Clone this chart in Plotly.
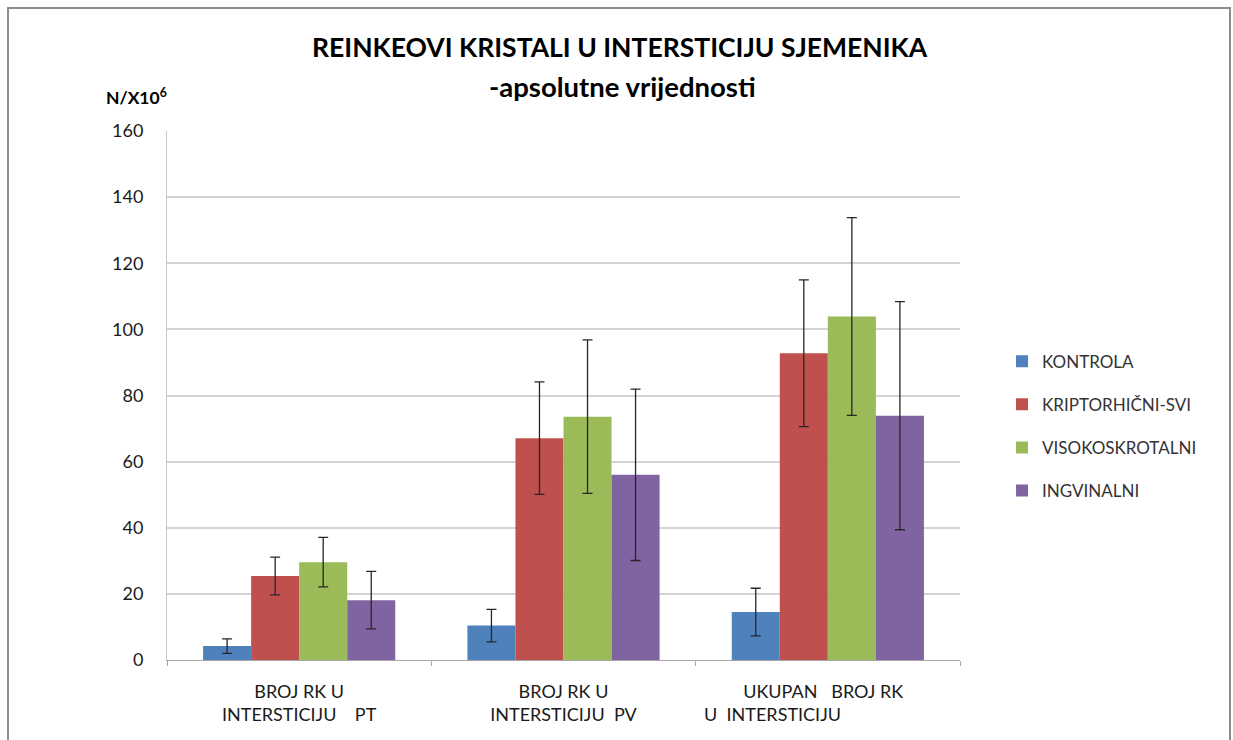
import plotly.graph_objects as go

NB = "\u00a0"

# Category labels (two lines each)
categories = [
    f"BROJ RK U<br>INTERSTICIJU{NB*4}PT",
    f"BROJ RK U<br>INTERSTICIJU{NB*2}PV",
    f"UKUPAN{NB*3}BROJ RK{NB*2}<br>U{NB*2}INTERSTICIJU{NB*24}",
]

# Series means and error (± SD)
kontrola = [4.2, 10.4, 14.5]
kontrola_err = [2.2, 4.9, 7.2]

kriptorhicni = [25.4, 67.1, 92.8]
kriptorhicni_err = [5.7, 17.0, 22.2]

visokoskrotalni = [29.6, 73.6, 103.9]
visokoskrotalni_err = [7.5, 23.2, 29.9]

ingvinalni = [18.1, 56.0, 73.9]
ingvinalni_err = [8.7, 25.9, 34.5]

series_names = ["KONTROLA", "KRIPTORHIČNI-SVI", "VISOKOSKROTALNI", "INGVINALNI"]
series_vals = [kontrola, kriptorhicni, visokoskrotalni, ingvinalni]
series_errs = [kontrola_err, kriptorhicni_err, visokoskrotalni_err, ingvinalni_err]
colors = ["#4F81BD", "#C0504D", "#9BBB59", "#8064A2"]

y_ticks = [0, 20, 40, 60, 80, 100, 120, 140, 160]

FONT = "Lato, 'Open Sans', sans-serif"

fig = go.Figure()
for name, vals, errs, col in zip(series_names, series_vals, series_errs, colors):
    fig.add_trace(go.Bar(
        x=categories, y=vals, name=name, legendgroup=name,
        marker=dict(color=col, line=dict(width=0)),
        error_y=dict(type="data", array=errs, visible=True,
                     color="#262626", thickness=1.3, width=5),
    ))

fig.update_layout(
    width=1233, height=740,
    margin=dict(l=167, r=273, t=131, b=80),
    paper_bgcolor="white", plot_bgcolor="white",
    barmode="group", bargap=0.273, bargroupgap=0,
    font=dict(family=FONT, color="#1a1a1a"),
    showlegend=True,
    legend=dict(x=1.053, xanchor="left", y=0.598, yanchor="top",
                font=dict(size=17, color="#333333"),
                tracegroupgap=18, bgcolor="rgba(0,0,0,0)"),
    xaxis=dict(
        type="category", showgrid=False, showline=True, linecolor="#A6A6A6",
        linewidth=1, ticks="outside", ticklen=5, tickcolor="#A6A6A6",
        tickson="boundaries", tickfont=dict(size=18, color="#1a1a1a"),
        ticklabelstandoff=15,
    ),
    yaxis=dict(
        range=[0, 160], tickvals=y_ticks, showgrid=True,
        gridcolor="#D4D4D4", gridwidth=1.5, showline=True, linecolor="#C8C8C8",
        linewidth=1, zeroline=False, ticks="", tickfont=dict(size=18, color="#1a1a1a"),
        ticklabelstandoff=19,
    ),
    annotations=[
        dict(text="<b>REINKEOVI KRISTALI U INTERSTICIJU SJEMENIKA</b>",
             xref="paper", yref="paper", x=(620 - 167) / 793, y=(660 - 47) / 529,
             xanchor="center", yanchor="middle", showarrow=False,
             font=dict(size=26.5, color="#000000")),
        dict(text="<b>-apsolutne vrijednosti</b>",
             xref="paper", yref="paper", x=(622 - 167) / 793, y=(660 - 86) / 529,
             xanchor="center", yanchor="middle", showarrow=False,
             font=dict(size=27.5, color="#000000")),
        dict(text="<b>N/X10<sup>6</sup></b>",
             xref="paper", yref="paper", x=(104 - 167) / 793, y=(660 - 96) / 529,
             xanchor="left", yanchor="middle", showarrow=False,
             font=dict(size=17.5, color="#000000")),
    ],
    shapes=[
        dict(type="rect", xref="paper", yref="paper",
             x0=(8 - 167) / 793, x1=(1230 - 167) / 793,
             y0=(660 - 760) / 529, y1=(660 - 8) / 529,
             line=dict(color="#8C8C8C", width=2), fillcolor="rgba(0,0,0,0)",
             layer="below"),
    ],
)

fig.write_html("out.html")
